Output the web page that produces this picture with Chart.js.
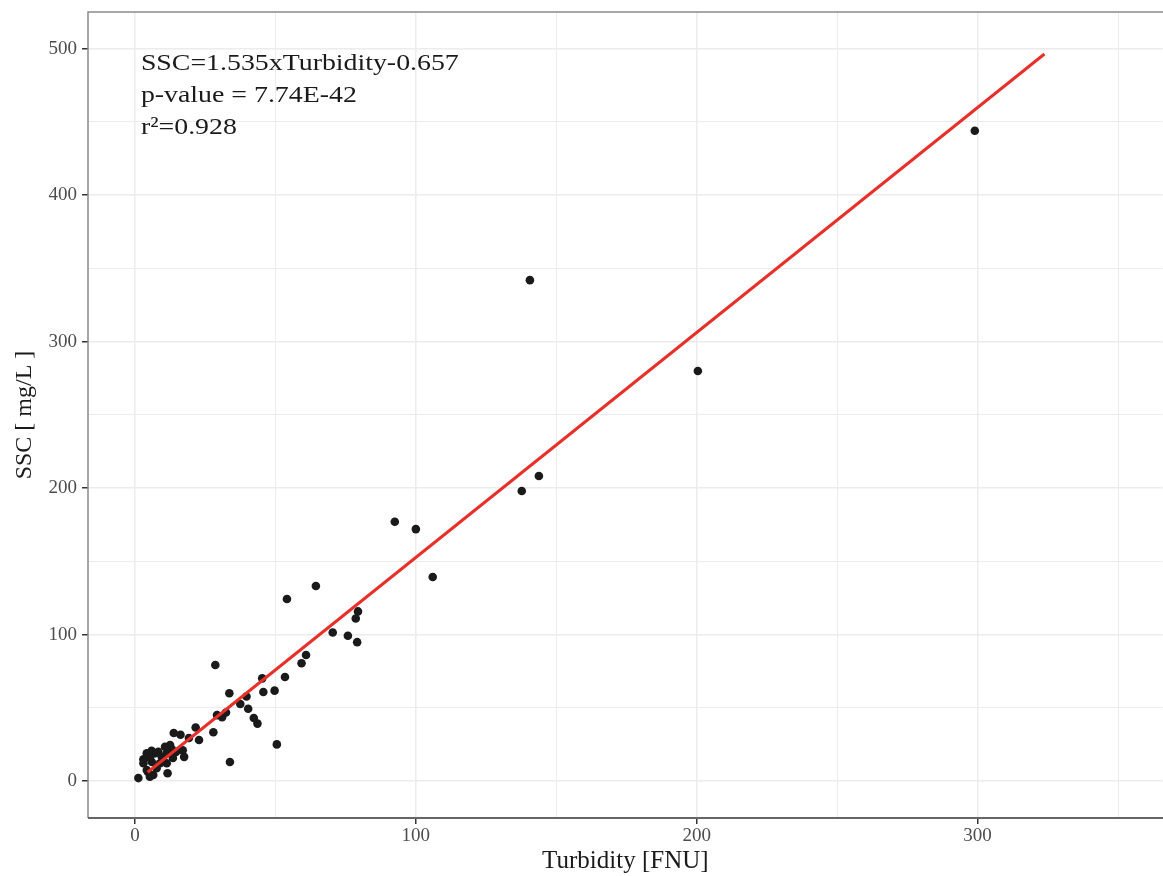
<!DOCTYPE html>
<html><head><meta charset="utf-8">
<script src="https://cdn.jsdelivr.net/npm/chart.js@4/dist/chart.umd.min.js"></script>
<style>html,body{margin:0;padding:0;background:#fff;overflow:hidden}#wrap{width:1163px;height:876px;position:relative;overflow:hidden}</style>
</head><body><div id="wrap"><canvas id="c" width="1167" height="876"></canvas></div>
<script>
const turbidity = [
  299, 140.6, 200.4, 143.8, 137.7, 92.5, 100, 106, 64.4, 54.1,
  79.4, 78.6, 70.4, 75.8, 79.1, 60.9, 59.3, 28.6, 53.4, 45.3,
  33.6, 45.7, 49.7, 39.7, 37.5, 40.3, 42.3, 43.6, 29.2, 31.0,
  32.4, 27.9, 33.8, 50.5, 21.6, 22.8, 19.2, 16.2, 13.8, 17.0,
  17.5, 1.2, 3.0, 4.2, 5.9, 7.1, 8.3, 9.5, 11.3, 10.7,
  12.5, 11.3, 8.9, 11.6, 6.5, 4.2, 3.0, 7.7, 5.3, 13.1,
  6.0, 10.0, 5.3, 13.5, 14.6, 4.6, 12.2
];
const ssc = [
  444, 342, 280, 208.3, 198, 177, 172, 139.3, 133.2, 124.3,
  115.8, 111, 101.4, 99.2, 94.8, 86, 80.4, 79.2, 71, 70.1,
  59.9, 60.8, 61.7, 57.7, 52.6, 49.3, 43, 39.2, 45, 43.5,
  46.8, 33.3, 13, 25, 36.5, 28, 29.4, 31.6, 32.8, 21,
  16.5, 2, 14.8, 18.9, 20.7, 18.9, 20, 16.6, 18.9, 23.4,
  24.6, 12.1, 12.1, 5.3, 4.1, 7.5, 12.1, 8.7, 2.9, 21.6,
  13, 14.3, 15.7, 15.7, 19.8, 6.1, 23
];
// Fitted line end points
const fitTurbidity = [4.5, 323.8];
const fitSSC = [6.0, 496.4];
// Tick labels and grid positions
const xTickLabels = [0, 100, 200, 300];
const yTickLabels = [0, 100, 200, 300, 400, 500];
const xGrid = [0, 50, 100, 150, 200, 250, 300, 350];
const yGrid = [0, 50, 100, 150, 200, 250, 300, 350, 400, 450, 500];
const annotationLines = ["SSC=1.535xTurbidity-0.657", "p-value = 7.74E-42", "r\u00B2=0.928"];
const annotationY = [490, 467.7, 445.9];
const annotationX = 2.1;

const SERIF = "'Liberation Serif', 'DejaVu Serif', serif";

const points = turbidity.map((t, i) => ({x: t, y: ssc[i]}));
const fitLine = fitTurbidity.map((t, i) => ({x: t, y: fitSSC[i]}));

const isMajorX = v => xTickLabels.includes(v);
const isMajorY = v => yTickLabels.includes(v);

const panelPlugin = {
  id: 'panel',
  afterDraw(chart) {
    const {ctx, chartArea: a, scales} = chart;
    ctx.save();
    ctx.strokeStyle = '#8a8a8a';
    ctx.lineWidth = 1.5;
    ctx.beginPath();
    ctx.moveTo(a.right + 4, a.top);
    ctx.lineTo(a.left, a.top);
    ctx.lineTo(a.left, a.bottom);
    ctx.stroke();
    ctx.strokeStyle = '#666';
    ctx.lineWidth = 2;
    ctx.beginPath();
    ctx.moveTo(a.left, a.bottom);
    ctx.lineTo(a.right + 4, a.bottom);
    ctx.stroke();
    // annotation
    ctx.fillStyle = '#1a1a1a';
    ctx.font = "24px " + SERIF;
    ctx.textBaseline = 'middle';
    ctx.textAlign = 'left';
    const px = scales.x.getPixelForValue(annotationX);
    annotationLines.forEach((t, i) => {
      const py = scales.y.getPixelForValue(annotationY[i]);
      ctx.save();
      ctx.translate(px, py);
      ctx.scale(1.16, 1);
      ctx.fillText(t, 0, 0);
      ctx.restore();
    });
    ctx.restore();
  }
};

new Chart(document.getElementById('c'), {
  type: 'scatter',
  data: {
    datasets: [
      {
        label: 'fit', data: fitLine, showLine: true, pointRadius: 0,
        borderColor: '#e8302a', borderWidth: 3, order: 0
      },
      {
        label: 'SSC', data: points, pointRadius: 4.3, pointBackgroundColor: '#1a1a1a',
        pointBorderWidth: 0, borderColor: '#1a1a1a', order: 1
      }
    ]
  },
  options: {
    responsive: false, animation: false, devicePixelRatio: 1,
    layout: {padding: {top: 12, right: 0, left: 0, bottom: 0}},
    plugins: {legend: {display: false}, tooltip: {enabled: false}},
    scales: {
      x: {
        type: 'linear', min: -16.73, max: 365.9,
        afterBuildTicks: s => { s.ticks = xGrid.map(v => ({value: v})); },
        afterFit: s => { s.height = 58; s.paddingLeft = 0; s.paddingRight = 0; },
        border: {display: false},
        grid: {
          color: '#ececec',
          lineWidth: c => (c.tick && isMajorX(c.tick.value)) ? 1.5 : 1,
          tickColor: c => (c.tick && isMajorX(c.tick.value)) ? '#333' : 'rgba(0,0,0,0)',
          tickLength: 6, tickWidth: 1.5
        },
        ticks: {
          autoSkip: false, maxRotation: 0, padding: 1,
          color: '#4d4d4d', font: {family: SERIF, size: 19},
          callback: v => isMajorX(v) ? String(v) : ''
        },
        title: {
          display: true, text: 'Turbidity [FNU]', color: '#1a1a1a',
          font: {family: SERIF, size: 25, lineHeight: 1}, padding: {top: 0, bottom: 2}
        }
      },
      y: {
        type: 'linear', min: -25.26, max: 525.1,
        afterBuildTicks: s => { s.ticks = yGrid.map(v => ({value: v})); },
        afterFit: s => { s.width = 88; s.paddingTop = 0; s.paddingBottom = 0; },
        border: {display: false},
        grid: {
          color: '#ececec',
          lineWidth: c => (c.tick && isMajorY(c.tick.value)) ? 1.5 : 1,
          tickColor: c => (c.tick && isMajorY(c.tick.value)) ? '#333' : 'rgba(0,0,0,0)',
          tickLength: 6, tickWidth: 1.5
        },
        ticks: {
          autoSkip: false, padding: 5,
          color: '#4d4d4d', font: {family: SERIF, size: 19},
          callback: v => isMajorY(v) ? String(v) : ''
        },
        title: {
          display: true, text: 'SSC [ mg/L ]', color: '#1a1a1a',
          font: {family: SERIF, size: 24, lineHeight: 1}, padding: {top: 13, bottom: 0}
        }
      }
    }
  },
  plugins: [panelPlugin]
});
</script></body></html>
